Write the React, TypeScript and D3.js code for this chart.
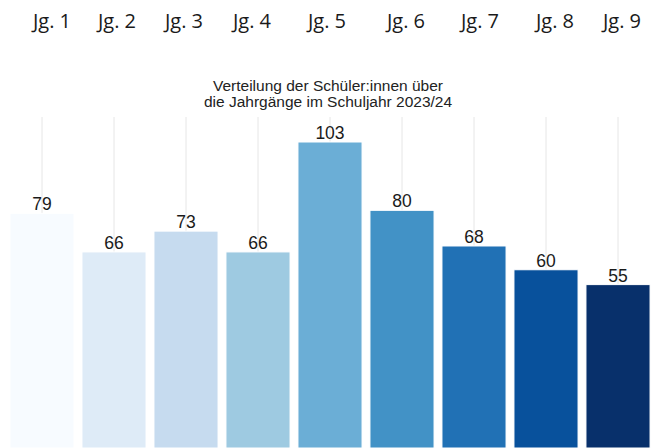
import React, { useRef, useEffect } from 'react';
import * as d3 from 'd3';

// Jahrgänge and student counts, school year 2023/24
const grades = ['Jg. 1', 'Jg. 2', 'Jg. 3', 'Jg. 4', 'Jg. 5', 'Jg. 6', 'Jg. 7', 'Jg. 8', 'Jg. 9'];
const students = [79, 66, 73, 66, 103, 80, 68, 60, 55];
const titleLines = ['Verteilung der Schüler:innen über', 'die Jahrgänge im Schuljahr 2023/24'];

// the tab row at the top of the page is not aligned with the bars
const tabCenters = [52, 117, 184, 252, 327, 406, 480, 555, 622];

const width = 654;
const height = 448;

const App: React.FC = () => {
  const svgRef = useRef<SVGSVGElement>(null);

  useEffect(() => {
    if (!svgRef.current) return;
    const svg = d3.select(svgRef.current);
    svg.selectAll('*').remove();

    // tab labels
    svg.append('g')
      .selectAll('text')
      .data(grades)
      .enter().append('text')
      .attr('x', (_d, i) => tabCenters[i])
      .attr('y', 28)
      .attr('text-anchor', 'middle')
      .attr('font-family', '"Open Sans", sans-serif')
      .attr('font-size', '20px')
      .attr('fill', '#1a1a1a')
      .text(d => d);

    // title
    svg.append('g')
      .selectAll('text')
      .data(titleLines)
      .enter().append('text')
      .attr('x', 328)
      .attr('y', (_d, i) => 91 + i * 15.5)
      .attr('text-anchor', 'middle')
      .attr('font-family', '"Liberation Sans", Arial, sans-serif')
      .attr('font-size', '15.5px')
      .attr('fill', '#222')
      .text(d => d);

    const x = d3.scaleBand<string>()
      .domain(grades)
      .range([6, 654])
      .paddingInner(0.11)
      .paddingOuter(0.055);

    const y = d3.scaleLinear()
      .domain([0, d3.max(students) as number])
      .range([height, 142]);

    const color = d3.scaleOrdinal<string, string>()
      .domain(grades)
      .range(d3.schemeBlues[9]);

    // vertical grid lines at the category centres
    svg.append('g')
      .selectAll('line')
      .data(grades)
      .enter().append('line')
      .attr('x1', d => (x(d) as number) + x.bandwidth() / 2)
      .attr('x2', d => (x(d) as number) + x.bandwidth() / 2)
      .attr('y1', 117)
      .attr('y2', height)
      .attr('stroke', '#e6e6e6')
      .attr('stroke-width', 1);

    // bars
    svg.append('g')
      .selectAll('rect')
      .data(students)
      .enter().append('rect')
      .attr('x', (_d, i) => x(grades[i]) as number)
      .attr('y', d => y(d))
      .attr('width', x.bandwidth())
      .attr('height', d => height - y(d))
      .attr('fill', (_d, i) => color(grades[i]))
      .attr('stroke', '#fff')
      .attr('stroke-width', 1);

    // value labels
    svg.append('g')
      .selectAll('text')
      .data(students)
      .enter().append('text')
      .attr('x', (_d, i) => (x(grades[i]) as number) + x.bandwidth() / 2)
      .attr('y', d => y(d) - 3)
      .attr('text-anchor', 'middle')
      .attr('font-family', '"Liberation Sans", Arial, sans-serif')
      .attr('font-size', '17.5px')
      .attr('fill', '#1a1a1a')
      .text(d => d);
  }, []);

  return (
    <svg
      ref={svgRef}
      width={width}
      height={height}
      style={{ position: 'absolute', left: 0, top: 0, background: '#fff' }}
    />
  );
};

export default App;
